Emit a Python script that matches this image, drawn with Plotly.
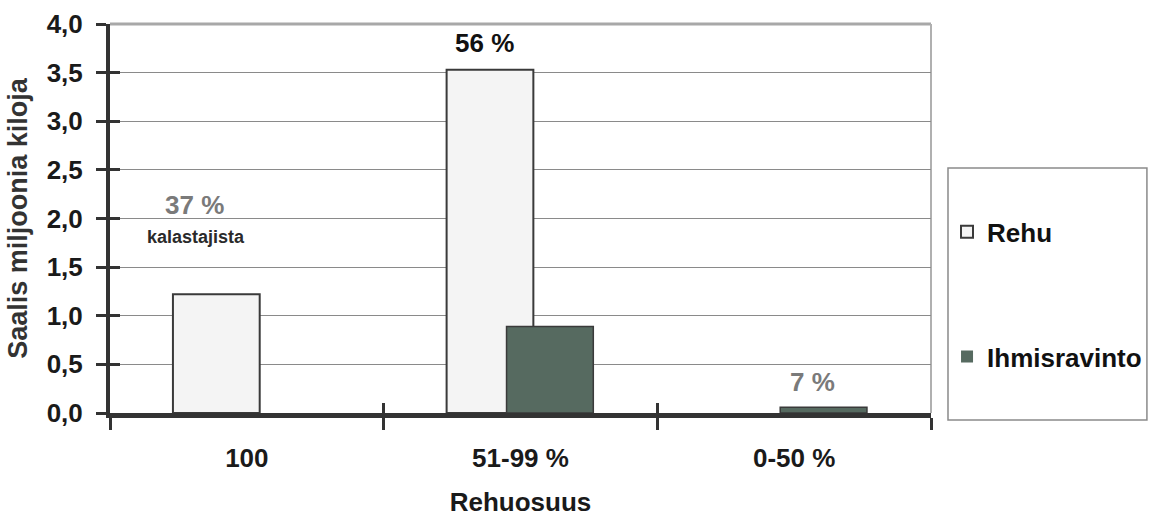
import plotly.graph_objects as go

# Catch by feed share of the catch
categories = ["100", "51-99 %", "0-50 %"]
rehu = [1.22, 3.53, 0.0]           # feed
ihmisravinto = [0.0, 0.89, 0.06]   # human food
share_labels = ["37 %", "56 %", "7 %"]
y_ticks = [0, 0.5, 1.0, 1.5, 2.0, 2.5, 3.0, 3.5, 4.0]

FONT = "Liberation Sans"
AXIS = "#333333"
BAR_W = 0.317


def outline(values, w):
    # no outline on empty bars, so nothing is drawn along the baseline
    return [w if v else 0 for v in values]


fig = go.Figure()
fig.add_trace(go.Bar(
    name="Rehu", x=categories, y=rehu, width=BAR_W, offset=-0.27,
    marker=dict(color="#f4f4f4", line=dict(color="#3a3a3a", width=outline(rehu, 2))),
    legendgroup="a",
))
fig.add_trace(go.Bar(
    name="Ihmisravinto", x=categories, y=ihmisravinto, width=BAR_W, offset=-0.051,
    marker=dict(color="#566a60", line=dict(color="#3a3a3a", width=outline(ihmisravinto, 1.5))),
    legendgroup="b",
))
# helper traces so the overlaid axes (inner halves of the ticks) get drawn
fig.add_trace(go.Scatter(x=[None], y=[None], xaxis="x2", yaxis="y", showlegend=False, hoverinfo="skip"))
fig.add_trace(go.Scatter(x=[None], y=[None], xaxis="x", yaxis="y2", showlegend=False, hoverinfo="skip"))

tick_font = dict(family=FONT, size=26, color="#1a1a1a", weight="bold")

fig.update_layout(
    width=1161, height=517,
    barmode="overlay",
    separators=",.",
    plot_bgcolor="white", paper_bgcolor="white",
    margin=dict(l=110, r=230, t=24, b=104),
    font=dict(family=FONT, size=26, color="#1a1a1a", weight="bold"),
    xaxis=dict(
        type="category", categoryorder="array", categoryarray=categories,
        range=[-0.5, 2.5], tickson="boundaries",
        ticks="outside", ticklen=12, tickwidth=3, tickcolor=AXIS,
        showline=True, linecolor=AXIS, linewidth=5,
        showgrid=False, zeroline=False, layer="above traces",
        tickfont=tick_font, ticklabelstandoff=18,
        title=dict(text="Rehuosuus", font=tick_font, standoff=29),
        automargin=False,
    ),
    xaxis2=dict(
        overlaying="x", anchor="y", side="bottom", range=[-0.5, 2.5],
        tickmode="array", tickvals=[-0.5, 0.5, 1.5, 2.5],
        ticks="inside", ticklen=10, tickwidth=3, tickcolor=AXIS,
        showticklabels=False, showgrid=False, zeroline=False, showline=False,
    ),
    yaxis=dict(
        range=[0, 4.0], tickmode="array", tickvals=y_ticks, tickformat=".1f",
        ticks="outside", ticklen=10, tickwidth=3, tickcolor=AXIS,
        showline=True, linecolor=AXIS, linewidth=4,
        showgrid=True, gridcolor="#8a8a8a", gridwidth=1,
        zeroline=False, layer="above traces",
        tickfont=tick_font, ticklabelstandoff=8,
        title=dict(text="Saalis miljoonia kiloja",
                   font=dict(family=FONT, size=27, color="#333333", weight="bold"), standoff=12),
        automargin=False,
    ),
    yaxis2=dict(
        overlaying="y", anchor="x", side="left", range=[0, 4.0],
        tickmode="array", tickvals=y_ticks,
        ticks="inside", ticklen=10, tickwidth=3, tickcolor=AXIS,
        showticklabels=False, showgrid=False, zeroline=False, showline=False,
    ),
    legend=dict(
        xref="container", yref="container",
        x=0.8157, y=0.597, xanchor="left", yanchor="top",
        traceorder="grouped", tracegroupgap=88,
        font=dict(family=FONT, size=26, color="#111111", weight="bold"),
        bgcolor="rgba(0,0,0,0)", borderwidth=0,
        itemclick=False,
    ),
    showlegend=True,
)

# frame: grey top/right border of the plot area and the legend box
fig.add_shape(type="line", xref="paper", yref="paper", x0=0, x1=1, y0=1, y1=1,
              line=dict(color="#a8a8a8", width=3), layer="below")
fig.add_shape(type="line", xref="paper", yref="paper", x0=1, x1=1, y0=0, y1=1,
              line=dict(color="#b0b0b0", width=2), layer="below")
fig.add_shape(type="rect", xref="paper", yref="paper", x0=1.0207, x1=1.263, y0=-0.018, y1=0.630,
              line=dict(color="#8a8a8a", width=1.5), fillcolor="rgba(0,0,0,0)")

# share of fishermen above each group (x given as category index)
fig.add_annotation(x=0, y=2.14, xshift=-52, text=share_labels[0], showarrow=False,
                   font=dict(family=FONT, size=26, color="#7a7a7a", weight="bold"))
fig.add_annotation(x=0, y=1.81, xshift=-51, text="kalastajista", showarrow=False,
                   font=dict(family=FONT, size=18, color="#2a2a2a", weight="bold"))
fig.add_annotation(x=1, y=rehu[1], xshift=-36, yshift=27, text=share_labels[1], showarrow=False,
                   font=dict(family=FONT, size=26, color="#111111", weight="bold"))
fig.add_annotation(x=2, y=ihmisravinto[2], xshift=18, yshift=25, text=share_labels[2], showarrow=False,
                   font=dict(family=FONT, size=26, color="#7a7a7a", weight="bold"))

fig.write_html("out.html")
